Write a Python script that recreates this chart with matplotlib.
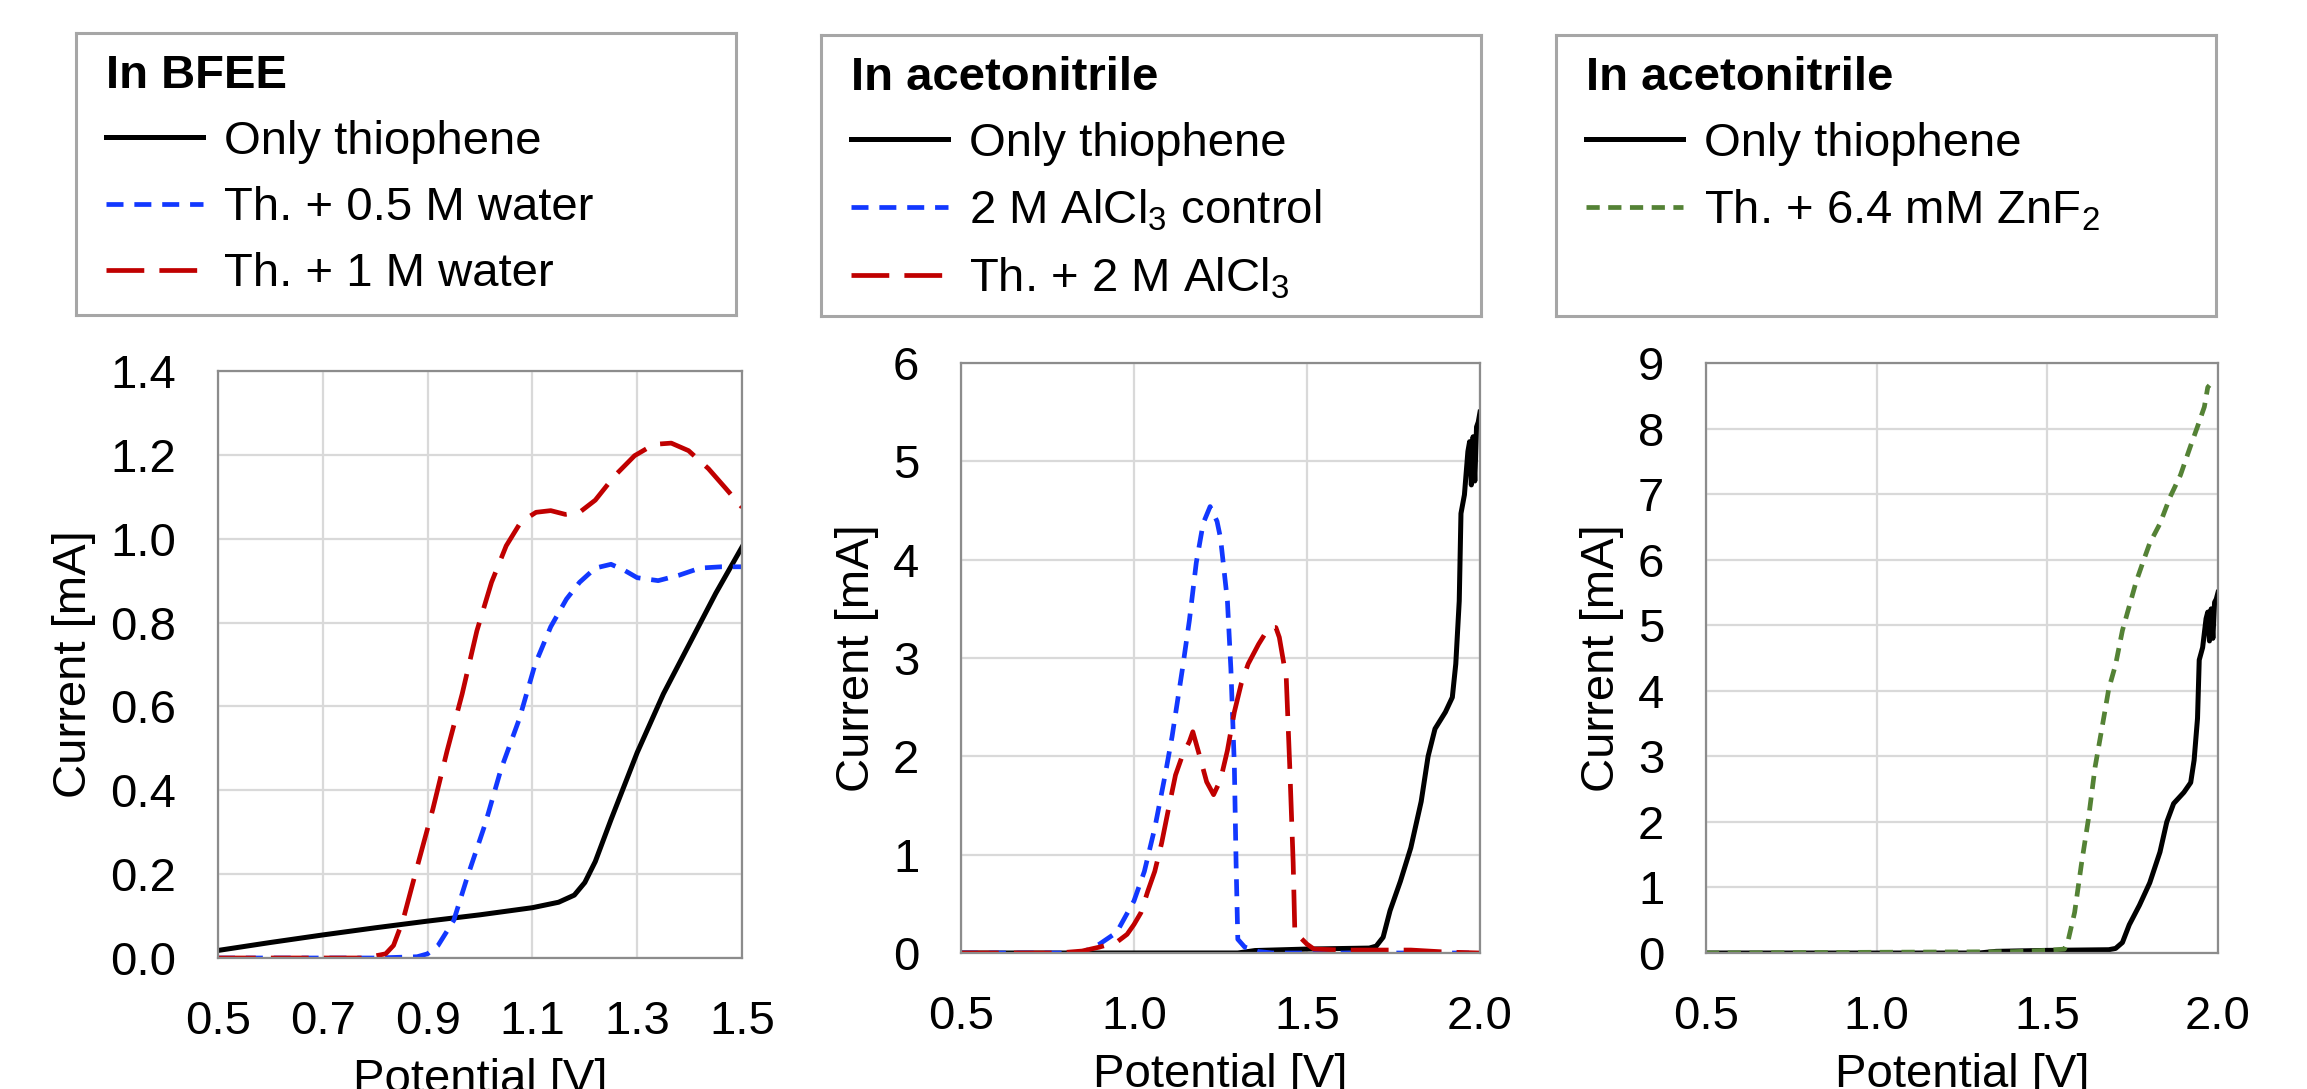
import matplotlib
matplotlib.use("Agg")
import matplotlib.pyplot as plt
from matplotlib.ticker import FormatStrFormatter, MultipleLocator

plt.rcParams['font.family'] = ['Liberation Sans', 'DejaVu Sans']
plt.rcParams['mathtext.default'] = 'regular'
plt.rcParams['font.size'] = 34

# --- data ---
# panel 1: in BFEE
bfee_th_v = [0.50, 0.60, 0.70, 0.80, 0.90, 1.00, 1.10, 1.15, 1.18, 1.20, 1.22, 1.25,
             1.30, 1.35, 1.40, 1.45, 1.50]
bfee_th_i = [0.018, 0.037, 0.055, 0.072, 0.088, 0.103, 0.120, 0.133, 0.150, 0.180, 0.230,
             0.330, 0.490, 0.630, 0.750, 0.870, 0.980]

water05_v = [0.50, 0.80, 0.88, 0.90, 0.92, 0.95, 0.975, 1.01, 1.04, 1.075, 1.105, 1.135,
             1.165, 1.19, 1.22, 1.25, 1.275, 1.30, 1.34, 1.38, 1.42, 1.46, 1.50]
water05_i = [0.0, 0.0, 0.003, 0.01, 0.03, 0.09, 0.19, 0.32, 0.45, 0.57, 0.70, 0.79,
             0.856, 0.896, 0.93, 0.939, 0.925, 0.907, 0.90, 0.913, 0.93, 0.933, 0.933]

water1_v = [0.50, 0.78, 0.82, 0.835, 0.853, 0.88, 0.91, 0.937, 0.966, 0.994, 1.022, 1.05,
            1.078, 1.107, 1.135, 1.163, 1.19, 1.22, 1.257, 1.295, 1.332, 1.365, 1.398,
            1.436, 1.469, 1.50]
water1_i = [0.0, 0.0, 0.01, 0.03, 0.09, 0.217, 0.355, 0.493, 0.63, 0.78, 0.896, 0.983,
            1.04, 1.063, 1.067, 1.058, 1.063, 1.092, 1.15, 1.198, 1.225, 1.228, 1.21,
            1.167, 1.12, 1.075]

# panels 2 and 3: in acetonitrile
acn_th_v = [0.50, 1.30, 1.35, 1.50, 1.68, 1.70, 1.72, 1.74, 1.77, 1.80, 1.83, 1.85, 1.87,
            1.90, 1.92, 1.93, 1.94, 1.945, 1.955, 1.965, 1.97, 1.975, 1.98, 1.985, 1.99,
            1.995, 2.00]
acn_th_i = [0.0, 0.0, 0.025, 0.04, 0.05, 0.07, 0.16, 0.43, 0.73, 1.07, 1.54, 2.00, 2.28,
            2.45, 2.60, 2.94, 3.58, 4.47, 4.66, 5.10, 5.20, 4.76, 5.25, 4.80, 5.35,
            5.40, 5.50]

alcl3_ctrl_v = [0.50, 0.85, 0.87, 0.90, 0.95, 1.00, 1.03, 1.06, 1.09, 1.11, 1.14, 1.16,
                1.18, 1.20, 1.22, 1.24, 1.25, 1.27, 1.28, 1.29, 1.295, 1.30, 1.32, 1.36,
                1.40, 2.00]
alcl3_ctrl_i = [0.0, 0.0, 0.04, 0.09, 0.21, 0.53, 0.83, 1.27, 1.81, 2.20, 2.89, 3.38,
                3.97, 4.37, 4.54, 4.39, 4.22, 3.58, 2.89, 1.91, 0.92, 0.14, 0.06, 0.015,
                0.0, 0.0]

alcl3_th_v = [0.50, 0.78, 0.85, 0.90, 0.95, 0.98, 1.00, 1.02, 1.04, 1.06, 1.08, 1.10,
              1.12, 1.14, 1.16, 1.17, 1.19, 1.21, 1.23, 1.25, 1.27, 1.29, 1.31, 1.33,
              1.36, 1.39, 1.41, 1.42, 1.44, 1.45, 1.46, 1.465, 1.48, 1.50, 1.52, 1.60,
              1.80, 1.90, 2.00]
alcl3_th_i = [0.0, 0.0, 0.02, 0.06, 0.11, 0.19, 0.29, 0.41, 0.63, 0.83, 1.12, 1.47,
              1.81, 2.01, 2.15, 2.25, 2.00, 1.74, 1.61, 1.76, 2.06, 2.45, 2.74, 2.94,
              3.14, 3.31, 3.31, 3.21, 2.80, 1.91, 0.92, 0.19, 0.16, 0.09, 0.04, 0.03,
              0.03, 0.01, 0.0]

znf2_v = [0.50, 1.40, 1.50, 1.55, 1.56, 1.58, 1.60, 1.62, 1.64, 1.66, 1.68, 1.70, 1.72,
          1.74, 1.76, 1.78, 1.80, 1.83, 1.86, 1.89, 1.92, 1.94, 1.96, 1.97, 1.975]
znf2_i = [0.0, 0.02, 0.04, 0.06, 0.17, 0.62, 1.36, 2.03, 2.84, 3.43, 4.03, 4.40, 4.92,
          5.29, 5.66, 5.96, 6.25, 6.55, 6.96, 7.29, 7.74, 8.03, 8.33, 8.63, 8.66]

bfee_xticks = [0.5, 0.7, 0.9, 1.1, 1.3, 1.5]
acn_xticks = [0.5, 1.0, 1.5, 2.0]

titles = ['In BFEE', 'In acetonitrile', 'In acetonitrile']
labels1 = ['Only thiophene', 'Th. + 0.5 M water', 'Th. + 1 M water']
labels2 = ['Only thiophene', r'2 M AlCl$_3$ control', r'Th. + 2 M AlCl$_3$']
labels3 = ['Only thiophene', r'Th. + 6.4 mM ZnF$_2$']

BLACK = '#000000'
BLUE = '#1238ff'
RED = '#c00000'
GREEN = '#548235'
GRID = '#d9d9d9'
SPINE = '#8c8c8c'
BOXEDGE = '#a6a6a6'

W, H = 2307, 1089
fig = plt.figure(figsize=(W / 100, H / 100), dpi=100)


def px_axes(x0, y0, x1, y1):
    return fig.add_axes([x0 / W, 1 - y1 / H, (x1 - x0) / W, (y1 - y0) / H])


ax1 = px_axes(218, 371, 742, 958)
ax2 = px_axes(961, 363, 1480, 953)
ax3 = px_axes(1706, 363, 2218, 953)

LW = 3.4
l1 = [
    ax1.plot(bfee_th_v, bfee_th_i, color=BLACK, lw=3.6)[0],
    ax1.plot(water05_v, water05_i, color=BLUE, lw=LW, dashes=(3.6, 2.3))[0],
    ax1.plot(water1_v, water1_i, color=RED, lw=LW, dashes=(8, 3.2))[0],
]
l2 = [
    ax2.plot(acn_th_v, acn_th_i, color=BLACK, lw=3.6)[0],
    ax2.plot(alcl3_ctrl_v, alcl3_ctrl_i, color=BLUE, lw=LW, dashes=(3.6, 2.3))[0],
    ax2.plot(alcl3_th_v, alcl3_th_i, color=RED, lw=LW, dashes=(8, 3.2))[0],
]
l3 = [
    ax3.plot(acn_th_v, acn_th_i, color=BLACK, lw=3.6)[0],
    ax3.plot(znf2_v, znf2_i, color=GREEN, lw=LW, dashes=(2.8, 1.8))[0],
]

ax1.set_xlim(0.5, 1.5)
ax1.set_ylim(0, 1.4)
ax1.set_xticks(bfee_xticks)
ax1.yaxis.set_major_locator(MultipleLocator(0.2))
ax1.xaxis.set_major_formatter(FormatStrFormatter('%.1f'))
ax1.yaxis.set_major_formatter(FormatStrFormatter('%.1f'))

ax2.set_ylim(0, 6)
ax3.set_ylim(0, 9)
for ax in (ax2, ax3):
    ax.set_xlim(0.5, 2.0)
    ax.set_xticks(acn_xticks)
    ax.yaxis.set_major_locator(MultipleLocator(1))
    ax.xaxis.set_major_formatter(FormatStrFormatter('%.1f'))
    ax.yaxis.set_major_formatter(FormatStrFormatter('%d'))

for ax in (ax1, ax2, ax3):
    ax.grid(True, color=GRID, lw=1.6)
    ax.set_axisbelow(True)
    ax.tick_params(length=0, pad=30, labelsize=34)
    for s in ax.spines.values():
        s.set_color(SPINE)
        s.set_linewidth(1.6)
    ax.set_xlabel('Potential [V]', fontsize=34, labelpad=10)
    ax.set_ylabel('Current [mA]', fontsize=34, labelpad=10)

# legend boxes above each panel
boxes = [(76, 33, 736, 315), (821, 35, 1481, 316), (1556, 35, 2216, 316)]
for (x0, y0, x1, y1), title, handles, labels in zip(
        boxes, titles, [l1, l2, l3], [labels1, labels2, labels3]):
    lax = px_axes(x0, y0, x1, y1)
    lax.set_xticks([])
    lax.set_yticks([])
    for s in lax.spines.values():
        s.set_color(BOXEDGE)
        s.set_linewidth(2.2)
    lax.legend(handles, labels, title=title, loc='upper left',
               bbox_to_anchor=(0.01, 1.01), borderaxespad=0, borderpad=0.5,
               frameon=False, alignment='left', fontsize=34,
               title_fontproperties={'weight': 'bold', 'size': 34},
               handlelength=2.05, handletextpad=0.44, labelspacing=0.47)

fig.savefig('out.png', dpi=100)
